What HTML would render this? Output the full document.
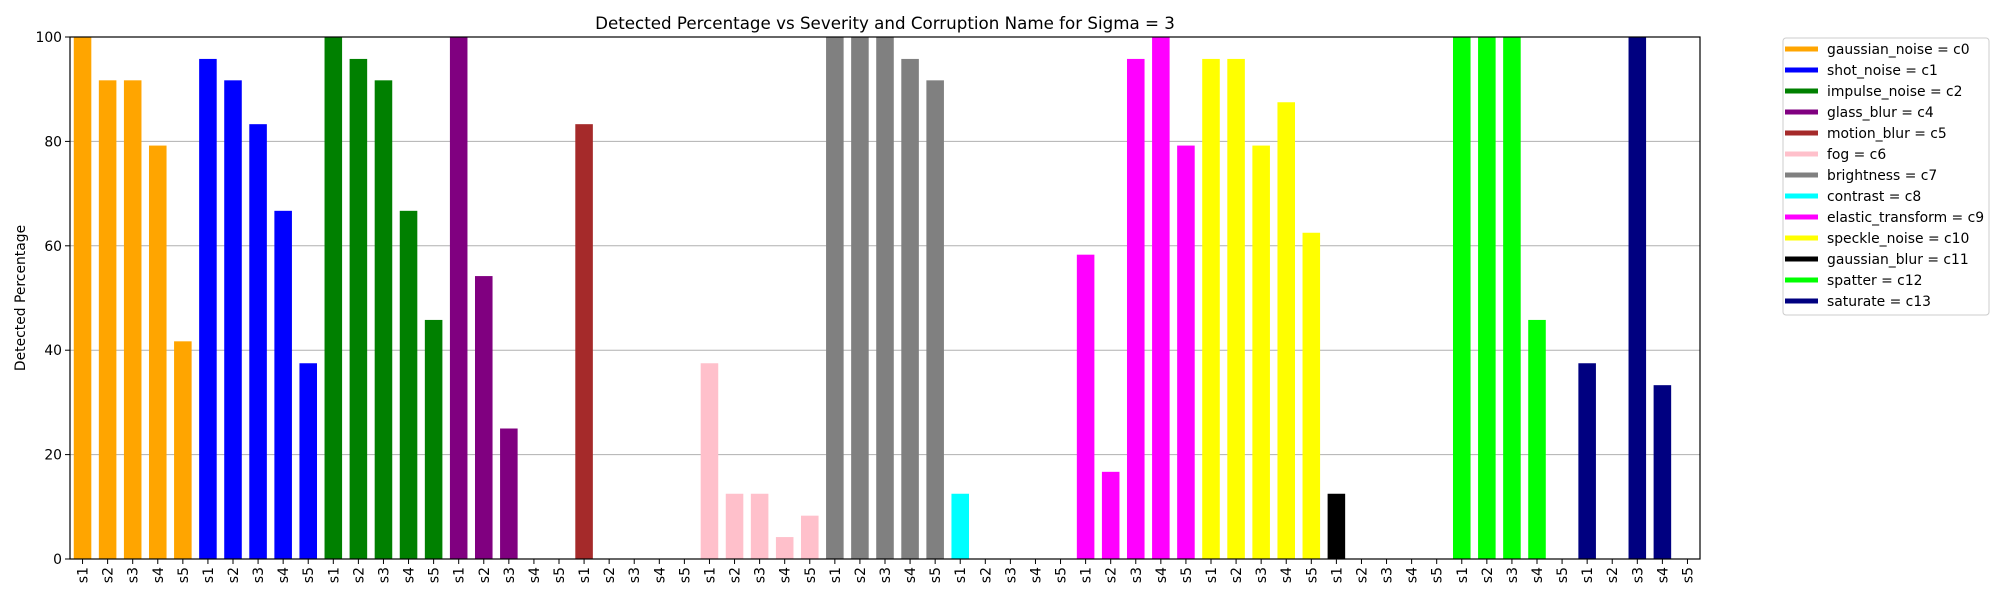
<!DOCTYPE html>
<html><head><meta charset="utf-8"><style>
body{margin:0;background:#fff;}
svg{display:block;font-family:"DejaVu Sans","Liberation Sans",sans-serif;}
</style></head><body>
<svg id="chart" width="2000" height="600" xmlns="http://www.w3.org/2000/svg">
<rect width="2000" height="600" fill="#fff"/>
<g id="grid"></g>
<g id="bars"></g>
<g id="xticks"></g>
<g id="yticks"></g>
<rect x="70" y="37" width="1630" height="522" fill="none" stroke="#000" stroke-width="1.2"/>
<text x="885" y="29" font-size="16.7" text-anchor="middle">Detected Percentage vs Severity and Corruption Name for Sigma = 3</text>
<text transform="translate(25,298) rotate(-90)" font-size="13.9" text-anchor="middle">Detected Percentage</text>
<g id="legend">
<rect x="1783" y="38" width="206" height="277" rx="3" fill="#fff" stroke="#ccc"/>
</g>
</svg>
<script>
const groups=["gaussian_noise = c0","shot_noise = c1","impulse_noise = c2","glass_blur = c4","motion_blur = c5","fog = c6","brightness = c7","contrast = c8","elastic_transform = c9","speckle_noise = c10","gaussian_blur = c11","spatter = c12","saturate = c13"];
const severities=["s1","s2","s3","s4","s5"];
const values=[
[100,91.7,91.7,79.2,41.7],
[95.8,91.7,83.3,66.7,37.5],
[100,95.8,91.7,66.7,45.8],
[100,54.2,25,0,0],
[83.3,0,0,0,0],
[37.5,12.5,12.5,4.2,8.3],
[100,100,100,95.8,91.7],
[12.5,0,0,0,0],
[58.3,16.7,95.8,100,79.2],
[95.8,95.8,79.2,87.5,62.5],
[12.5,0,0,0,0],
[100,100,100,45.8,0],
[37.5,0,100,33.3,0]
];
const colors=["orange","blue","green","purple","#a52a2a","pink","gray","cyan","magenta","yellow","black","lime","navy"];
const yTicks=[0,20,40,60,80,100];
const NS="http://www.w3.org/2000/svg";
const L=70,R=1700,T=37,B=559;
const n=groups.length*severities.length;
const slot=(R-L)/n;
const xs=i=>L+(i+0.5)*slot;
const ys=v=>B-(v/100)*(B-T);
function mk(tag,attrs,parent){const e=document.createElementNS(NS,tag);for(const k in attrs)e.setAttribute(k,attrs[k]);parent.appendChild(e);return e;}
const grid=document.getElementById('grid'),bars=document.getElementById('bars'),xt=document.getElementById('xticks'),yt=document.getElementById('yticks'),lg=document.getElementById('legend');
yTicks.forEach(t=>{
  const y=ys(t);
  const gl=mk('line',{x1:L,x2:R,y1:y,y2:y,stroke:'#b0b0b0','stroke-width':1},grid);
  
  
  mk('line',{x1:L-5,x2:L,y1:y,y2:y,stroke:'#000'},yt);
  const tx=mk('text',{x:L-8,y:y+5,'font-size':13.9,'text-anchor':'end'},yt);
  tx.textContent=t;
  
  
});
const bw=slot*0.7;
values.forEach((row,g)=>{
  row.forEach((v,s)=>{
    const i=g*severities.length+s;
    const x=xs(i);
    const r=mk('rect',{x:x-bw/2,y:ys(v),width:bw,height:B-ys(v),fill:colors[g]},bars);
    
    
    mk('line',{x1:x,x2:x,y1:B,y2:B+5,stroke:'#000'},xt);
    const tx=mk('text',{transform:`translate(${x+5},${B+8}) rotate(-90)`,'font-size':13.9,'text-anchor':'end'},xt);
    tx.textContent=severities[s];
    
    
  });
});
groups.forEach((name,g)=>{
  const y=49+g*21;
  const ln=mk('line',{x1:1785,x2:1818,y1:y,y2:y,stroke:colors[g],'stroke-width':5},lg);
  
  
  const tx=mk('text',{x:1827,y:y+5,'font-size':13.9},lg);
  tx.textContent=name;
  
  
});
</script>
</body></html>
